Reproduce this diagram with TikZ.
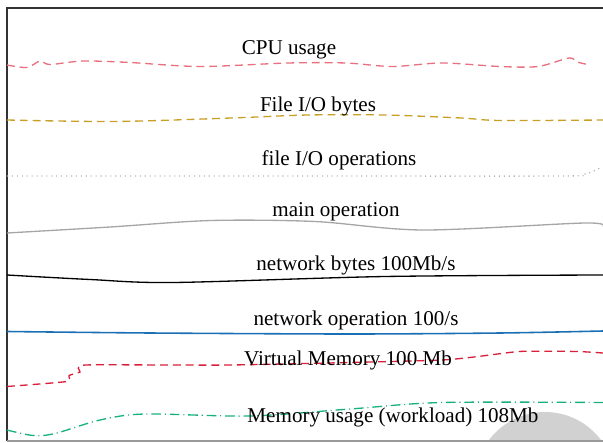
\documentclass[tikz,border=0pt]{standalone}
\usepackage{fontspec}
\setmainfont{Liberation Serif}
\usepackage{tikz}
\usetikzlibrary{calc,positioning}
\usepackage{xcolor}
\definecolor{cpured}{HTML}{E8707F}
\definecolor{vmred}{HTML}{D8203A}
\definecolor{iogold}{HTML}{C8A028}
\definecolor{netblue}{HTML}{1A6FB5}
\definecolor{memgreen}{HTML}{18B080}

\begin{document}
\begin{tikzpicture}[x=0.02cm, y=-0.02cm]
      \tikzset{
	  lbl/.style={inner sep=0pt, text=black, font=\fontsize{12}{14}\selectfont},
	  trace/.style={line width=0.75pt, smooth, tension=0.5},
	  dashtrace/.style={trace, dash pattern=on 4.5pt off 2.8pt}
      }
      \useasboundingbox (0,0) rectangle (603,443);

      % grey blob in the corner, cut by the frame
      \begin{scope}
	\clip (7,8) rectangle (603,441);
	\fill[black!18] (545,482) circle (70);
      \end{scope}

      % frame
      \draw[line width=0.8pt, black!80] (7,441) -- (7,8) -- (603,8);
      \draw[line width=1.2pt, black!40] (7,441) -- (603,441);

      % traces
      \draw[dashtrace, cpured] plot coordinates {(7,65) (27,67.5) (40,61) (50,64.5) (83,61) (130,62.5) (200,66.5) (288,63) (346,63) (392,66.5) (442,63) (500,66.5) (538,66.5) (569,58) (577,62) (590,65)};
      \draw[dashtrace, iogold] plot coordinates {(7,120) (115,121.5) (231,118) (308,115) (385,115) (461,118) (500,120.5) (603,120)};
      \draw[trace, black!30, dash pattern=on 0.6pt off 2.2pt] plot coordinates {(7,176) (300,176) (560,176) (585,174) (600,168)};
      \draw[trace, black!35] plot coordinates {(7,233) (110,227) (211,220.5) (315,221.5) (423,230) (585,223) (603,227)};
      \draw[trace, black] plot coordinates {(7,275) (90,279.5) (173,282.5) (385,276.5) (603,275)};
      \draw[trace, netblue, line width=0.9pt] plot coordinates {(7,331.5) (150,333) (350,334) (500,333) (603,331)};
      \draw[dashtrace, vmred, tension=0.3] plot coordinates {(7,386.5) (67,381.5) (69,375.5) (80,372) (85,365) (231,365) (442,360) (519,351.5) (577,351.5) (603,353)};
      \draw[trace, memgreen, dash pattern=on 5.5pt off 2.2pt on 0.6pt off 2.2pt] plot coordinates {(7,430) (33,435.5) (55,433.5) (100,420) (145,414) (250,416) (350,409) (442,402.5) (603,402.5)};

      % labels
      \node at (289,50) [lbl] (cpu) {CPU usage};
      \node at (318,106) [lbl] (fbytes) {File I/O bytes};
      \node at (339,160) [lbl] (fops) {file I/O operations};
      \node at (336,211.5) [lbl] (mainop) {main operation};
      \node at (356,265) [lbl] (nbytes) {network bytes 100Mb/s};
      \node at (356,320) [lbl] (nops) {network operation 100/s};
      \node at (348,360.5) [lbl] (vmem) {Virtual Memory 100 Mb};
      \node at (393,417) [lbl] (mem) {Memory usage (workload) 108Mb};
\end{tikzpicture}
\end{document}
